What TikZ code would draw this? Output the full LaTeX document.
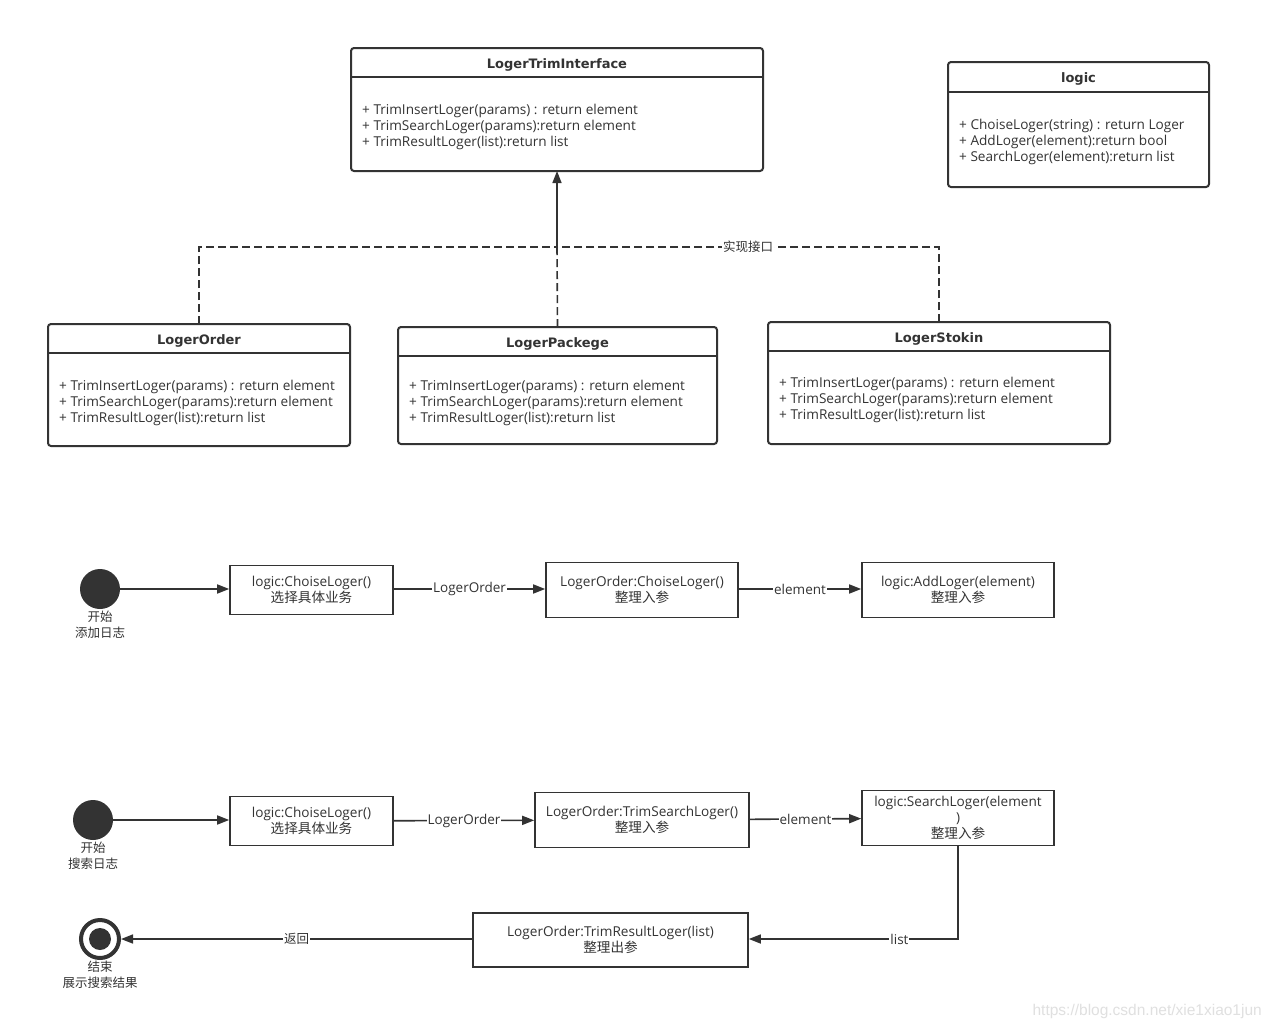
\documentclass[tikz,border=0pt]{standalone}
\usepackage{fontspec}
\setmainfont{Open Sans}
\newfontfamily\cjk{Noto Sans CJK SC}
\newfontfamily\titlefont{DejaVu Sans}
\newfontfamily\wmfont{Liberation Sans}
\usetikzlibrary{arrows.meta}
\definecolor{ink}{HTML}{333333}
\begin{document}
\begin{tikzpicture}[x=1pt,y=-1pt,
  every node/.style={text=ink},
  classbox/.style={draw=ink, line width=2pt, rounded corners=3pt, anchor=north west, inner sep=0pt, outer sep=0pt},
  divider/.style={draw=ink, line width=2pt},
  ctitle/.style={font=\titlefont\bfseries\fontsize{13}{15}\selectfont},
  attr/.style={anchor=west, inner sep=0pt, font=\fontsize{13.6}{16}\selectfont},
  actbox/.style={draw=ink, line width=1.6pt, align=center, inner sep=0pt, font=\fontsize{13.6}{16}\selectfont},
  flow/.style={draw=ink, line width=1.6pt, -{Triangle[length=12pt,width=9pt]}},
  elabel/.style={fill=white, inner sep=1pt, font=\fontsize{13.5}{16}\selectfont},
  cjklabel/.style={fill=white, inner sep=1pt, font=\cjk\fontsize{12.5}{16}\selectfont},
  impl/.style={draw=ink, line width=1.6pt, dash pattern=on 8pt off 4pt},
  startdot/.style={circle, fill=ink, minimum size=40pt, inner sep=0pt},
  enddot/.style={circle, draw=ink, line width=4pt, minimum size=38pt, inner sep=0pt},
  statelabel/.style={align=center, inner sep=0pt, font=\cjk\fontsize{12.5}{16}\selectfont}
]
\useasboundingbox (0,0) rectangle (1271,1028);
\fill[white] (0,0) rectangle (1271,1028);

% ---------- class boxes ----------
\node[classbox, minimum width=412pt, minimum height=123pt] (iface) at (351,48) {};
\draw[divider] (351,77) -- (763,77);
\node[ctitle] (ifacet) at (557,64.5) {LogerTrimInterface};
\node[attr] (ifa1) at (362,110.5) {+ TrimInsertLoger(params) : return element};
\node[attr] (ifa2) at (362,126.5) {+ TrimSearchLoger(params):return element};
\node[attr] (ifa3) at (362,142.5) {+ TrimResultLoger(list):return list};

\node[classbox, minimum width=261pt, minimum height=125pt] (logic) at (948,62) {};
\draw[divider] (948,92) -- (1209,92);
\node[ctitle] (logict) at (1078.5,78.5) {logic};
\node[attr] (lga1) at (959,125.5) {+ ChoiseLoger(string) : return Loger};
\node[attr] (lga2) at (959,141.5) {+ AddLoger(element):return bool};
\node[attr] (lga3) at (959,157.5) {+ SearchLoger(element):return list};

\node[classbox, minimum width=302pt, minimum height=122pt] (order) at (48,324) {};
\draw[divider] (48,353) -- (350,353);
\node[ctitle] (ordert) at (199,340.5) {LogerOrder};
\node[attr] (ora1) at (59,386.5) {+ TrimInsertLoger(params) : return element};
\node[attr] (ora2) at (59,402.5) {+ TrimSearchLoger(params):return element};
\node[attr] (ora3) at (59,418.5) {+ TrimResultLoger(list):return list};

\node[classbox, minimum width=319pt, minimum height=117pt] (pack) at (398,327) {};
\draw[divider] (398,356) -- (717,356);
\node[ctitle] (packt) at (557.5,343.5) {LogerPackege};
\node[attr] (pka1) at (409,386.5) {+ TrimInsertLoger(params) : return element};
\node[attr] (pka2) at (409,402.5) {+ TrimSearchLoger(params):return element};
\node[attr] (pka3) at (409,418.5) {+ TrimResultLoger(list):return list};

\node[classbox, minimum width=342pt, minimum height=122pt] (stok) at (768,322) {};
\draw[divider] (768,351) -- (1110,351);
\node[ctitle] (stokt) at (939,338.5) {LogerStokin};
\node[attr] (sta1) at (779,383.5) {+ TrimInsertLoger(params) : return element};
\node[attr] (sta2) at (779,399.5) {+ TrimSearchLoger(params):return element};
\node[attr] (sta3) at (779,415.5) {+ TrimResultLoger(list):return list};

% ---------- realization connectors ----------
\coordinate (j) at (557,247);
\draw[impl] (order.north) |- (j);
\draw[impl] (pack.north) -- (j);
\draw[impl] (stok.north) |- node[pos=0.75, cjklabel] {实现接口} (j);
\draw[flow] (j) -- (j |- iface.south);

% ---------- flow 1: add log ----------
\node[startdot] (s1) at (100,589) {};
\node[statelabel] (s1l) at (100,625) {开始\\添加日志};
\node[actbox, minimum width=163pt, minimum height=49pt] (a1) at (311.5,590) {logic:ChoiseLoger()\\{\cjk 选择具体业务}};
\node[actbox, minimum width=192pt, minimum height=55pt] (a2) at (642,590) {LogerOrder:ChoiseLoger()\\{\cjk 整理入参}};
\node[actbox, minimum width=192pt, minimum height=55pt] (a3) at (958,590) {logic:AddLoger(element)\\{\cjk 整理入参}};
\draw[flow] (s1) -- (s1 -| a1.west);
\draw[flow] (a1.east |- s1) -- node[elabel] {LogerOrder} (a2.west |- s1);
\draw[flow] (a2.east |- s1) -- node[elabel] {element} (a3.west |- s1);

% ---------- flow 2: search log ----------
\node[startdot] (s2) at (93,820) {};
\node[statelabel] (s2l) at (93,856) {开始\\搜索日志};
\node[actbox, minimum width=163pt, minimum height=49pt] (b1) at (311.5,821) {logic:ChoiseLoger()\\{\cjk 选择具体业务}};
\node[actbox, minimum width=214pt, minimum height=55pt] (b2) at (642,820) {LogerOrder:TrimSearchLoger()\\{\cjk 整理入参}};
\node[actbox, minimum width=192pt, minimum height=55pt] (b3) at (958,818) {logic:SearchLoger(element\\)\\{\cjk 整理入参}};
\node[actbox, minimum width=275pt, minimum height=54pt] (b4) at (610.5,940) {LogerOrder:TrimResultLoger(list)\\{\cjk 整理出参}};
\node[enddot] (e1) at (100,939) {};
\fill[ink] (e1.center) circle (11pt);
\node[statelabel] (e1l) at (100,975) {结束\\展示搜索结果};
\draw[flow] (s2) -- (s2 -| b1.west);
\draw[flow] (b1) -- node[elabel] {LogerOrder} (b2);
\draw[flow] (b2) -- node[elabel] {element} (b3);
\draw[flow] (b3.south) |- node[pos=0.64, elabel] {list} (b4.east |- e1);
\draw[flow] (b4.west |- e1) -- node[cjklabel] {返回} (e1);

% ---------- watermark ----------
\node[anchor=east, inner sep=0pt, text=black!12, font=\wmfont\fontsize{15.5}{17}\selectfont] (wm) at (1262,1011) {https://blog.csdn.net/xie1xiao1jun};
\end{tikzpicture}
\end{document}
